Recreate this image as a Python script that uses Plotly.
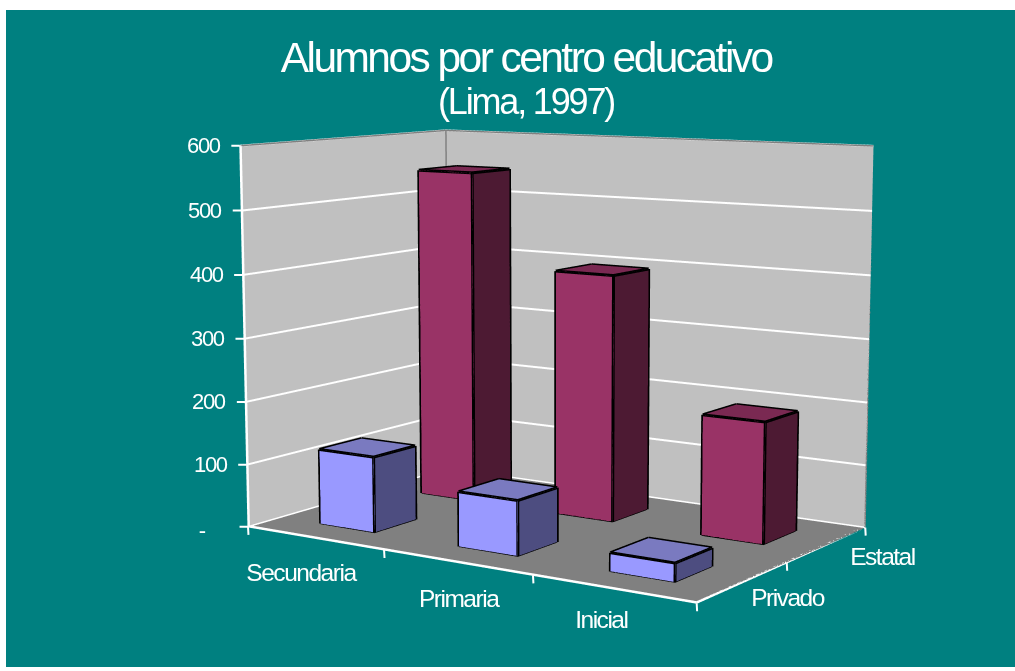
import plotly.graph_objects as go

categories = ["Secundaria", "Primaria", "Inicial"]
series_names = ["Privado", "Estatal"]
privado = [120, 85, 28]
estatal = [545, 395, 190]
z_ticks = [0, 100, 200, 300, 400, 500, 600]
z_labels = ["-", "100", "200", "300", "400", "500", "600"]
title_main = "Alumnos por centro educativo"
title_sub = "(Lima, 1997)"

TEAL = "#008080"
HX, HY = 0.20, 0.20
XR, YR, ZR = [-0.5, 2.5], [-0.5, 1.5], [0, 600]
FIG_W, VIEW_H, FIG_H = 1009, 657, 1800
CENTER_Y = 329
OFFSET = FIG_H / 2 - CENTER_Y
styles = [("#9999ff", "#4d4d80", "#7a7ac0"), ("#993366", "#4d1a33", "#7a2952")]
series_vals = [privado, estatal]
cat_shift = [(-14, -34), (2, -36), (-11, -31)]
series_shift = [(44, -15), (55, -12)]


def line(pts, color, width):
    fig.add_trace(go.Scatter3d(x=[p[0] for p in pts], y=[p[1] for p in pts], z=[p[2] for p in pts],
                               mode="lines", line=dict(color=color, width=width),
                               hoverinfo="skip", showlegend=False))


fig = go.Figure()
for j, vals in enumerate(series_vals):
    front, side, top = styles[j]
    for i, v in enumerate(vals):
        x0, x1, y0, y1 = i - HX, i + HX, j - HY, j + HY
        X = [x0, x1, x1, x0, x0, x1, x1, x0]
        Y = [y0, y0, y1, y1, y0, y0, y1, y1]
        Z = [0, 0, 0, 0, v, v, v, v]
        I = [0, 0, 1, 1, 4, 4]
        J = [1, 5, 2, 6, 5, 6]
        K = [5, 4, 6, 5, 6, 7]
        fig.add_trace(go.Mesh3d(x=X, y=Y, z=Z, i=I, j=J, k=K,
                                facecolor=[front, front, side, side, top, top],
                                flatshading=True, hoverinfo="skip",
                                lighting=dict(ambient=1, diffuse=0, specular=0, roughness=1, fresnel=0)))
        ex, ey, ez = [], [], []
        for a, b in [(0, 1), (1, 2), (4, 5), (5, 6), (6, 7), (7, 4), (0, 4), (1, 5), (2, 6)]:
            ex += [X[a], X[b], None]
            ey += [Y[a], Y[b], None]
            ez += [Z[a], Z[b], None]
        fig.add_trace(go.Scatter3d(x=ex, y=ey, z=ez, mode="lines",
                                   line=dict(color="black", width=6), hoverinfo="skip", showlegend=False))

# wall frame and axis lines, set a hair inside the box so they sit in front of the walls
xa, xb, ya, yb, zb = XR[0], XR[1], YR[0], YR[1], ZR[1]
eps = 0.004
line([(xa + eps, ya, zb), (xa + eps, yb - eps, zb), (xb, yb - eps, zb), (xb, yb - eps, 1)], "#808080", 3)
line([(xa + eps, yb - eps, 1), (xa + eps, yb - eps, zb)], "#808080", 3)
line([(xa + eps, ya, zb), (xa + eps, ya, 1), (xb, ya, 1), (xb, yb, 1)], "white", 5)

font = dict(family="Liberation Sans", size=22, color="white")
cat_font = dict(family="Liberation Sans", size=24.5, color="white")
tick = dict(text=" ", font=dict(size=1), borderpad=0, showarrow=True, arrowhead=0, arrowcolor="white",
            arrowwidth=2, standoff=0, startstandoff=0)
anns = []
for t, lab in zip(z_ticks, z_labels):
    anns.append(dict(x=xa, y=ya, z=t, text=lab, showarrow=False, xanchor="right",
                     xshift=-16 if t else -41, yshift=0 if t else -4, font=font))
    anns.append(dict(x=xa, y=ya, z=t, ax=-9, ay=0, **tick))
for i, c in enumerate(categories):
    anns.append(dict(x=i, y=ya, z=0, text=c, showarrow=False, xshift=cat_shift[i][0], yshift=cat_shift[i][1],
                     font=cat_font))
for b in [xa, 0.5, 1.5, xb]:
    anns.append(dict(x=b, y=ya, z=0, ax=0.5, ay=9, **tick))
for j, s in enumerate(series_names):
    anns.append(dict(x=xb, y=j, z=0, text=s, showarrow=False, xshift=series_shift[j][0], yshift=series_shift[j][1],
                     font=cat_font))
for b in [0.5, yb]:
    anns.append(dict(x=xb, y=b, z=0, ax=0.5, ay=9, **tick))


def axis(**kw):
    return dict(title=dict(text=""), showticklabels=False, showspikes=False, zeroline=False,
                ticks="", showline=False, **kw)


def paper_y(px):
    return 1 - (OFFSET + px) / FIG_H


fig.update_layout(
    width=FIG_W, height=FIG_H, margin=dict(l=0, r=0, t=0, b=0),
    paper_bgcolor=TEAL, showlegend=False,
    annotations=[
        dict(text=title_main, x=520 / FIG_W, y=paper_y(47.5), xref="paper", yref="paper", showarrow=False,
             font=dict(family="Liberation Sans", size=42.5, color="white")),
        dict(text=title_sub, x=520 / FIG_W, y=paper_y(91), xref="paper", yref="paper", showarrow=False,
             font=dict(family="Liberation Sans", size=36, color="white")),
    ],
    scene=dict(
        domain=dict(x=[0.091, 1.0], y=[0, 1]),
        aspectmode="manual",
        aspectratio=dict(x=1.445, y=0.945, z=1.065),
        camera=dict(eye=dict(x=3.275, y=-4.949, z=0.887), up=dict(x=0, y=0, z=1),
                    center=dict(x=0, y=0, z=0)),
        bgcolor=TEAL,
        xaxis=axis(range=XR, showgrid=False, showbackground=True, backgroundcolor="#c0c0c0"),
        yaxis=axis(range=YR, showgrid=False, showbackground=True, backgroundcolor="#c0c0c0"),
        zaxis=axis(range=ZR, tickvals=z_ticks, showgrid=True, gridcolor="white", gridwidth=4,
                   showbackground=True, backgroundcolor="#808080"),
        annotations=anns,
    ),
)
post = """
var g = document.getElementById('{plot_id}');
var p = g.parentElement;
document.body.style.margin = '10px 0 0 6px';
document.documentElement.style.overflow = 'hidden';
p.style.height = '%dpx';
p.style.overflow = 'hidden';
g.style.marginTop = '-%dpx';
var s = document.createElement('style');
s.textContent = 'svg text {letter-spacing:-0.06em;}';
document.head.appendChild(s);
""" % (VIEW_H, OFFSET)
fig.write_html("out.html", post_script=post, config=dict(displayModeBar=False))
